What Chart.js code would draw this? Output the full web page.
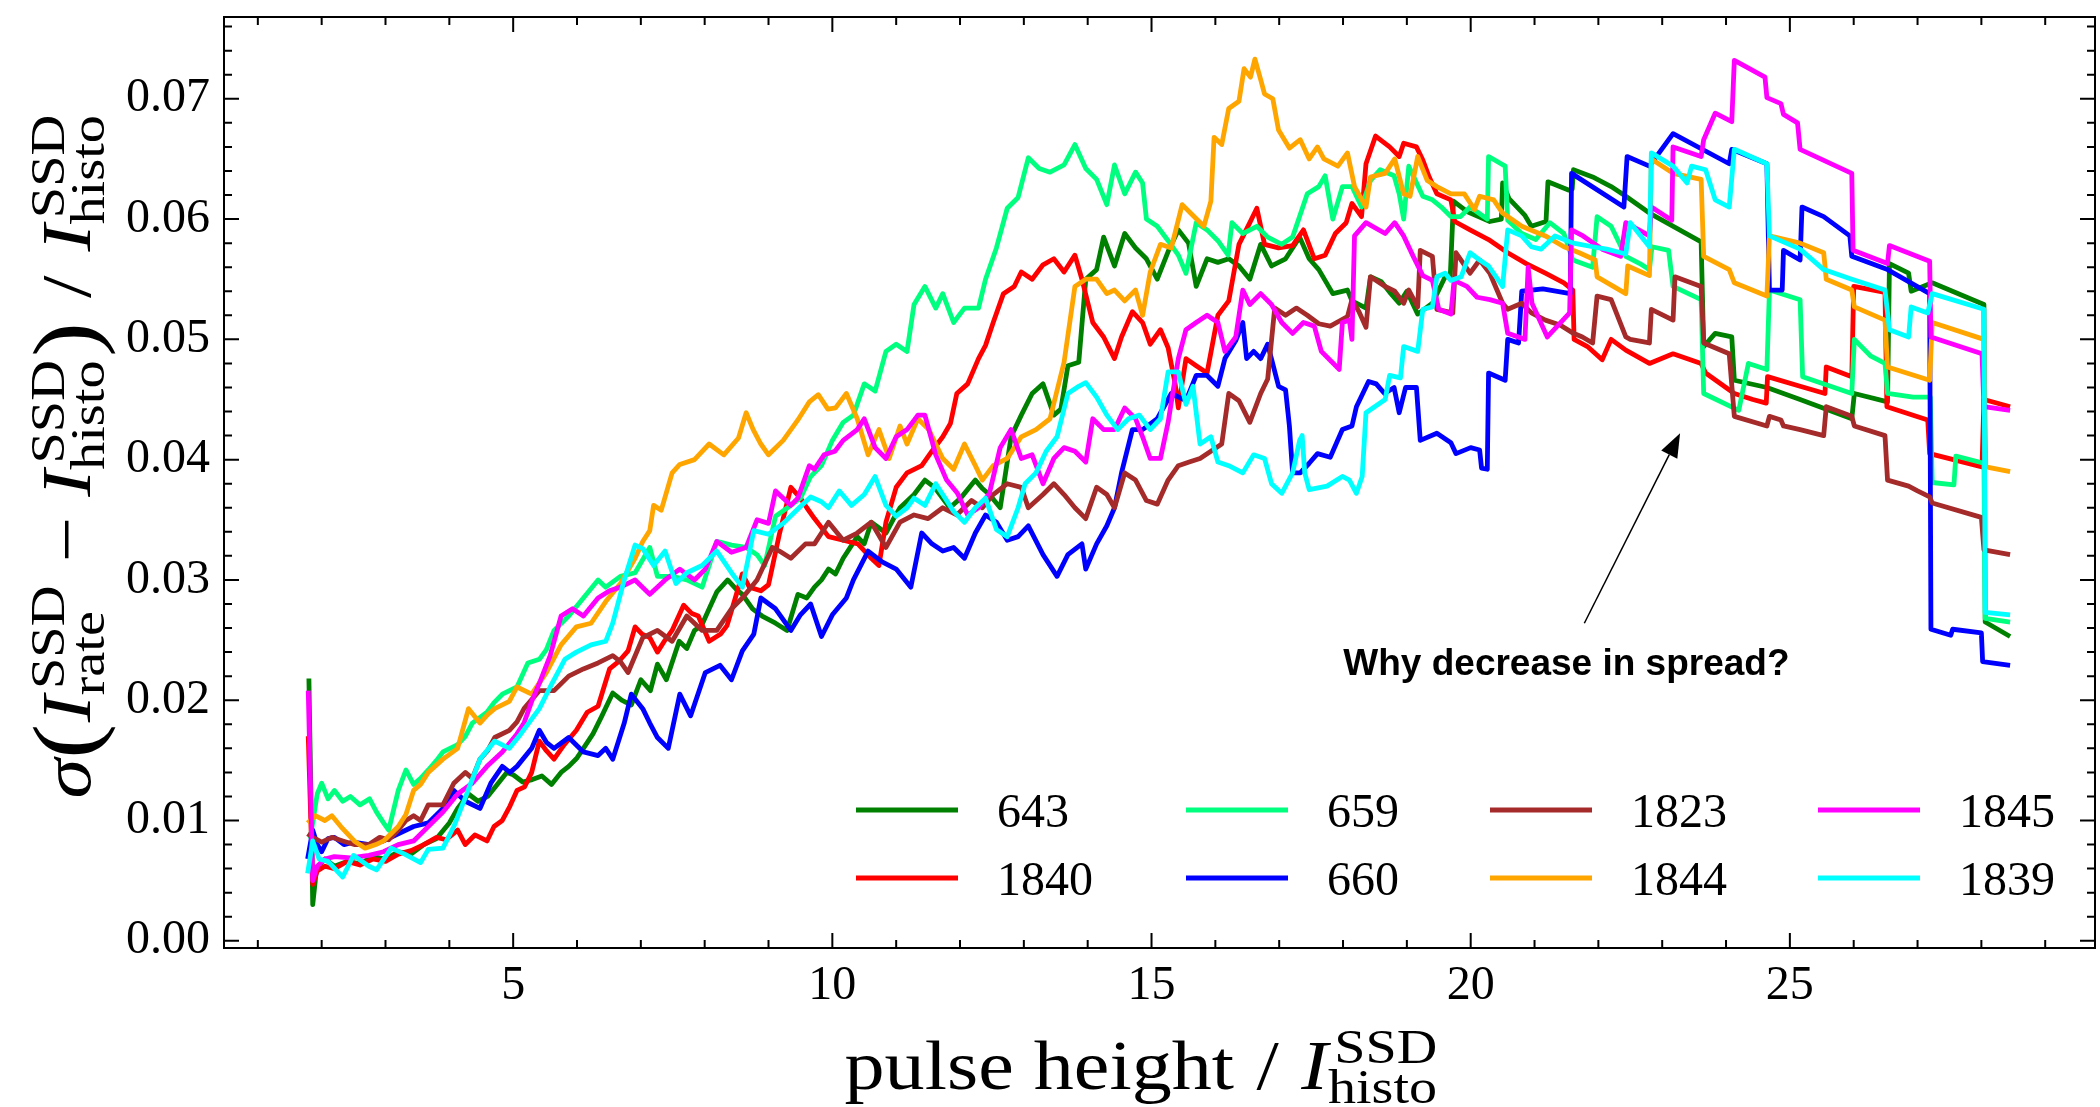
<!DOCTYPE html>
<html>
<head>
<meta charset="utf-8">
<script src="https://cdn.jsdelivr.net/npm/chart.js@4.4.1/dist/chart.umd.min.js"></script>
<style>
  html, body { margin: 0; padding: 0; background: #fff; }
  #wrap { width: 2100px; height: 1107px; }
</style>
</head>
<body>
<div id="wrap"><canvas id="chart" width="2100" height="1107"></canvas></div>
<script>
// run numbers, in plot order (legend fills column by column)
const runLabels = ['643', '1840', '659', '660', '1823', '1844', '1845', '1839'];
const runColors = ['#008000', '#ff0000', '#00ff7f', '#0000ff', '#a52a2a', '#ffa500', '#ff00ff', '#00ffff'];

const xTicks = [5, 10, 15, 20, 25];
const yTicks = [0, 0.01, 0.02, 0.03, 0.04, 0.05, 0.06, 0.07];

// [pulse height, spread]
const s643 = [[1.80,0.0218],[1.86,0.0030],[1.92,0.0060],[2.05,0.0068],[2.2,0.0062],[2.4,0.0066],[2.6,0.0064],[2.8,0.0070],[3.0,0.0068],[3.2,0.0074],[3.4,0.0072],[3.6,0.0080],[3.8,0.0085],[4.0,0.0098],[4.13,0.0110],[4.3,0.0122],[4.45,0.0116],[4.6,0.0120],[4.75,0.0130],[4.9,0.0140],[5.0,0.0138],[5.15,0.0132],[5.3,0.0134],[5.45,0.0137],[5.6,0.0130],[5.75,0.0140],[5.87,0.0145],[6.0,0.0152],[6.1,0.0160],[6.25,0.0172],[6.39,0.0187],[6.56,0.0206],[6.7,0.0200],[6.85,0.0196],[7.0,0.0217],[7.15,0.0208],[7.26,0.0230],[7.4,0.0217],[7.6,0.0249],[7.72,0.0243],[7.84,0.0258],[7.95,0.0262],[8.07,0.0276],[8.19,0.0290],[8.36,0.0300],[8.5,0.0292],[8.59,0.0288],[8.75,0.0276],[8.9,0.0270],[9.11,0.0264],[9.29,0.0258],[9.46,0.0288],[9.6,0.0285],[9.72,0.0294],[9.83,0.0300],[9.94,0.0309],[10.05,0.0305],[10.17,0.0318],[10.39,0.0336],[10.5,0.0330],[10.61,0.0348],[10.84,0.0339],[10.95,0.0350],[11.06,0.0360],[11.28,0.0371],[11.45,0.0383],[11.6,0.0377],[11.84,0.0360],[12.01,0.0368],[12.24,0.0383],[12.35,0.0376],[12.46,0.0371],[12.63,0.0360],[12.8,0.0419],[12.96,0.0437],[13.13,0.0455],[13.3,0.0463],[13.47,0.0437],[13.58,0.0442],[13.69,0.0478],[13.86,0.0481],[13.97,0.0550],[14.14,0.0558],[14.25,0.0585],[14.42,0.0561],[14.58,0.0588],[14.75,0.0576],[14.92,0.0567],[15.09,0.0550],[15.26,0.0573],[15.42,0.0591],[15.58,0.0580],[15.7,0.0544],[15.87,0.0567],[16.04,0.0564],[16.21,0.0567],[16.37,0.0561],[16.54,0.0550],[16.71,0.0579],[16.88,0.0561],[17.1,0.0567],[17.32,0.0585],[17.47,0.0567],[17.62,0.0558],[17.84,0.0538],[18.07,0.0541],[18.14,0.0532],[18.36,0.0526],[18.43,0.0552],[18.6,0.0548],[18.75,0.0538],[18.88,0.0530],[19.0,0.0540],[19.17,0.0521],[19.4,0.0530],[19.6,0.0552],[19.68,0.0552],[19.73,0.0615],[19.95,0.0606],[20.3,0.0598],[20.48,0.0600],[20.5,0.0630],[20.6,0.0617],[20.85,0.0603],[20.95,0.0594],[21.18,0.0598],[21.21,0.0631],[21.54,0.0624],[21.59,0.0625],[21.61,0.0641],[21.91,0.0635],[22.2,0.0627],[22.43,0.0619],[22.8,0.0605],[23.61,0.0581],[23.65,0.0494],[23.83,0.0505],[24.09,0.0502],[24.13,0.0466],[24.64,0.0460],[25.16,0.0450],[25.97,0.0434],[26.01,0.0455],[26.53,0.0448],[26.56,0.0563],[26.86,0.0555],[26.9,0.0540],[27.23,0.0547],[28.04,0.0529],[28.06,0.0265],[28.45,0.0253]];

const s1840 = [[1.79,0.0170],[1.86,0.0047],[1.93,0.0058],[2.05,0.0062],[2.2,0.0060],[2.4,0.0066],[2.6,0.0063],[2.8,0.0068],[3.0,0.0066],[3.2,0.0072],[3.4,0.0075],[3.6,0.0080],[3.8,0.0086],[3.95,0.0084],[4.13,0.0092],[4.25,0.0080],[4.4,0.0088],[4.59,0.0083],[4.7,0.0095],[4.83,0.0100],[4.95,0.0112],[5.06,0.0125],[5.18,0.0128],[5.29,0.0140],[5.41,0.0166],[5.52,0.0158],[5.64,0.0151],[5.8,0.0163],[5.99,0.0175],[6.16,0.0190],[6.33,0.0195],[6.51,0.0226],[6.65,0.0232],[6.8,0.0241],[6.91,0.0261],[7.02,0.0255],[7.14,0.0252],[7.26,0.0240],[7.38,0.0250],[7.49,0.0258],[7.67,0.0279],[7.8,0.0272],[7.9,0.0270],[8.07,0.0249],[8.25,0.0255],[8.35,0.0262],[8.48,0.0285],[8.59,0.0305],[8.7,0.0294],[8.88,0.0291],[9.0,0.0296],[9.17,0.0338],[9.35,0.0377],[9.5,0.0368],[9.6,0.0360],[9.72,0.0351],[9.94,0.0336],[10.17,0.0333],[10.4,0.0330],[10.61,0.0318],[10.73,0.0312],[10.84,0.0348],[11.0,0.0377],[11.17,0.0389],[11.4,0.0395],[11.56,0.0407],[11.73,0.0419],[11.85,0.0430],[11.95,0.0455],[12.12,0.0463],[12.29,0.0484],[12.4,0.0495],[12.52,0.0514],[12.68,0.0538],[12.85,0.0544],[12.96,0.0556],[13.13,0.0550],[13.3,0.0562],[13.47,0.0567],[13.63,0.0556],[13.8,0.0570],[13.91,0.0550],[14.08,0.0514],[14.25,0.0502],[14.42,0.0484],[14.53,0.0502],[14.7,0.0523],[14.86,0.0514],[14.98,0.0496],[15.14,0.0508],[15.26,0.0493],[15.37,0.0463],[15.42,0.0443],[15.54,0.0484],[15.7,0.0478],[15.87,0.0472],[16.04,0.0520],[16.21,0.0532],[16.37,0.0579],[16.54,0.0597],[16.65,0.0609],[16.77,0.0579],[16.99,0.0576],[17.21,0.0578],[17.38,0.0591],[17.55,0.0567],[17.72,0.0570],[17.88,0.0588],[18.05,0.0597],[18.14,0.0613],[18.29,0.0602],[18.36,0.0646],[18.51,0.0669],[18.73,0.0660],[18.88,0.0652],[18.95,0.0663],[19.15,0.0660],[19.25,0.0649],[19.35,0.0635],[19.47,0.0621],[19.69,0.0616],[19.75,0.0598],[19.99,0.0591],[20.28,0.0583],[20.58,0.0572],[20.87,0.0563],[21.17,0.0555],[21.46,0.0547],[21.6,0.0541],[21.62,0.0500],[21.83,0.0494],[22.06,0.0483],[22.2,0.0500],[22.43,0.0491],[22.8,0.0480],[23.17,0.0488],[23.61,0.0480],[23.68,0.0472],[24.13,0.0455],[24.42,0.0450],[24.63,0.0447],[24.65,0.0469],[25.16,0.0461],[25.55,0.0455],[25.57,0.0477],[25.97,0.0469],[26.0,0.0544],[26.49,0.0539],[26.52,0.0444],[27.16,0.0433],[27.19,0.0405],[28.01,0.0394],[28.04,0.0450],[28.45,0.0444]];

const s659 = [[1.82,0.0085],[1.93,0.0122],[2.0,0.0131],[2.1,0.0118],[2.2,0.0125],[2.33,0.0116],[2.45,0.0120],[2.6,0.0113],[2.75,0.0118],[2.86,0.0107],[2.97,0.0098],[3.05,0.0092],[3.2,0.0125],[3.32,0.0142],[3.44,0.0130],[3.55,0.0135],[3.67,0.0142],[3.8,0.0150],[3.9,0.0157],[4.13,0.0163],[4.25,0.0170],[4.36,0.0181],[4.59,0.0190],[4.7,0.0198],[4.83,0.0205],[5.06,0.0211],[5.23,0.0231],[5.41,0.0234],[5.52,0.0242],[5.64,0.0258],[5.87,0.0270],[6.1,0.0285],[6.33,0.0300],[6.45,0.0294],[6.68,0.0303],[6.91,0.0306],[7.14,0.0327],[7.26,0.0303],[7.49,0.0303],[7.72,0.0300],[7.96,0.0294],[8.19,0.0332],[8.42,0.0329],[8.65,0.0327],[8.82,0.0321],[8.94,0.0312],[9.11,0.0353],[9.35,0.0362],[9.5,0.0368],[9.66,0.0386],[9.83,0.0395],[10.0,0.0416],[10.17,0.0431],[10.33,0.0437],[10.5,0.0463],[10.67,0.0457],[10.84,0.0490],[11.0,0.0496],[11.17,0.0490],[11.28,0.0529],[11.45,0.0544],[11.62,0.0526],[11.73,0.0538],[11.9,0.0514],[12.07,0.0526],[12.29,0.0526],[12.4,0.0550],[12.57,0.0576],[12.74,0.0609],[12.91,0.0618],[13.07,0.0651],[13.24,0.0642],[13.41,0.0639],[13.63,0.0645],[13.8,0.0662],[13.97,0.0642],[14.14,0.0633],[14.3,0.0612],[14.42,0.0645],[14.58,0.0621],[14.75,0.0639],[14.86,0.0630],[14.92,0.0600],[15.09,0.0594],[15.26,0.0582],[15.42,0.0570],[15.54,0.0555],[15.7,0.0597],[15.87,0.0591],[16.04,0.0582],[16.2,0.0570],[16.26,0.0597],[16.43,0.0588],[16.65,0.0594],[16.82,0.0585],[17.04,0.0579],[17.21,0.0585],[17.44,0.0621],[17.62,0.0627],[17.72,0.0636],[17.84,0.0600],[17.99,0.0627],[18.14,0.0627],[18.29,0.0610],[18.43,0.0632],[18.58,0.0641],[18.8,0.0636],[18.88,0.0621],[18.95,0.0600],[19.03,0.0644],[19.25,0.0619],[19.4,0.0616],[19.54,0.0610],[19.69,0.0602],[19.84,0.0602],[19.99,0.0610],[20.26,0.0600],[20.28,0.0652],[20.54,0.0644],[20.58,0.0599],[20.8,0.0588],[21.02,0.0583],[21.24,0.0597],[21.46,0.0588],[21.6,0.0566],[21.91,0.0560],[21.98,0.0602],[22.2,0.0594],[22.43,0.0569],[22.65,0.0563],[22.8,0.0558],[22.84,0.0577],[23.1,0.0574],[23.17,0.0544],[23.61,0.0533],[23.65,0.0455],[24.2,0.0441],[24.35,0.0480],[24.64,0.0475],[24.68,0.0541],[25.16,0.0533],[25.2,0.0469],[25.97,0.0455],[26.01,0.0500],[26.27,0.0486],[26.49,0.0480],[26.53,0.0455],[26.93,0.0452],[27.2,0.0452],[27.23,0.0381],[27.57,0.0379],[27.6,0.0403],[28.04,0.0397],[28.06,0.0268],[28.45,0.0265]];

const s660 = [[1.78,0.0068],[1.86,0.0092],[1.93,0.0080],[2.0,0.0074],[2.1,0.0085],[2.2,0.0086],[2.35,0.0080],[2.5,0.0082],[2.74,0.0080],[2.97,0.0083],[3.2,0.0089],[3.44,0.0095],[3.67,0.0098],[3.9,0.0110],[4.07,0.0125],[4.25,0.0116],[4.48,0.0110],[4.65,0.0131],[4.83,0.0145],[4.95,0.0140],[5.06,0.0145],[5.29,0.0160],[5.41,0.0175],[5.52,0.0165],[5.64,0.0160],[5.87,0.0169],[6.1,0.0157],[6.33,0.0154],[6.45,0.0160],[6.56,0.0151],[6.74,0.0181],[6.85,0.0205],[7.03,0.0193],[7.14,0.0181],[7.26,0.0169],[7.43,0.0160],[7.61,0.0205],[7.78,0.0187],[8.01,0.0223],[8.24,0.0229],[8.42,0.0217],[8.59,0.0241],[8.77,0.0255],[8.88,0.0285],[9.11,0.0276],[9.35,0.0258],[9.5,0.0271],[9.66,0.0280],[9.83,0.0253],[10.0,0.0271],[10.22,0.0285],[10.33,0.0300],[10.56,0.0324],[10.78,0.0315],[11.0,0.0309],[11.23,0.0294],[11.4,0.0339],[11.56,0.0330],[11.73,0.0324],[11.9,0.0327],[12.07,0.0318],[12.24,0.0339],[12.4,0.0354],[12.57,0.0348],[12.74,0.0333],[12.91,0.0336],[13.07,0.0345],[13.3,0.0321],[13.52,0.0303],[13.69,0.0321],[13.91,0.0330],[13.97,0.0309],[14.14,0.0330],[14.3,0.0345],[14.42,0.0360],[14.53,0.0389],[14.7,0.0425],[14.86,0.0425],[15.09,0.0434],[15.31,0.0455],[15.54,0.0449],[15.7,0.0470],[15.87,0.0470],[16.04,0.0461],[16.15,0.0484],[16.32,0.0499],[16.43,0.0514],[16.49,0.0484],[16.6,0.0490],[16.71,0.0484],[16.82,0.0496],[16.99,0.0461],[17.1,0.0458],[17.16,0.0428],[17.21,0.0389],[17.33,0.0389],[17.47,0.0397],[17.6,0.0405],[17.8,0.0402],[17.99,0.0425],[18.14,0.0428],[18.21,0.0444],[18.4,0.0465],[18.52,0.0463],[18.65,0.0455],[18.8,0.0460],[18.88,0.0439],[18.98,0.0460],[19.15,0.0460],[19.21,0.0416],[19.47,0.0422],[19.69,0.0414],[19.77,0.0405],[20.0,0.0410],[20.14,0.0408],[20.17,0.0393],[20.26,0.0392],[20.28,0.0472],[20.54,0.0466],[20.58,0.0500],[20.75,0.0497],[20.8,0.0540],[21.13,0.0542],[21.56,0.0538],[21.58,0.0638],[22.4,0.0610],[22.45,0.0652],[22.8,0.0644],[23.17,0.0671],[24.05,0.0646],[24.09,0.0658],[24.64,0.0646],[24.68,0.0541],[24.88,0.0541],[24.9,0.0574],[25.16,0.0566],[25.19,0.0610],[25.53,0.0602],[25.94,0.0586],[25.97,0.0569],[26.53,0.0558],[27.19,0.0538],[27.21,0.0259],[27.52,0.0254],[27.55,0.0259],[28.0,0.0256],[28.02,0.0232],[28.45,0.0229]];

const s1823 = [[1.78,0.0089],[1.86,0.0086],[2.0,0.0082],[2.16,0.0086],[2.33,0.0083],[2.51,0.0080],[2.74,0.0080],[2.91,0.0086],[3.05,0.0084],[3.2,0.0092],[3.32,0.0100],[3.44,0.0104],[3.55,0.0100],[3.67,0.0113],[3.9,0.0113],[4.07,0.0131],[4.25,0.0140],[4.36,0.0135],[4.48,0.0151],[4.6,0.0158],[4.71,0.0169],[4.94,0.0175],[5.06,0.0182],[5.17,0.0193],[5.41,0.0208],[5.64,0.0208],[5.87,0.0220],[6.1,0.0226],[6.33,0.0231],[6.56,0.0237],[6.68,0.0232],[6.8,0.0223],[7.03,0.0252],[7.26,0.0258],[7.49,0.0249],[7.72,0.0270],[7.96,0.0258],[8.19,0.0258],[8.42,0.0276],[8.59,0.0285],[8.82,0.0300],[9.06,0.0327],[9.17,0.0324],[9.35,0.0318],[9.58,0.0330],[9.72,0.0330],[9.94,0.0348],[10.17,0.0333],[10.39,0.0339],[10.61,0.0348],[10.84,0.0327],[11.06,0.0348],[11.28,0.0354],[11.5,0.0351],[11.73,0.0360],[11.95,0.0354],[12.18,0.0366],[12.35,0.0360],[12.52,0.0371],[12.74,0.0380],[12.96,0.0377],[13.07,0.0360],[13.3,0.0371],[13.47,0.0380],[13.63,0.0371],[13.8,0.0360],[13.97,0.0351],[14.14,0.0377],[14.3,0.0371],[14.42,0.0360],[14.58,0.0389],[14.75,0.0383],[14.92,0.0366],[15.09,0.0363],[15.26,0.0383],[15.42,0.0395],[15.59,0.0398],[15.76,0.0401],[15.93,0.0407],[16.1,0.0413],[16.21,0.0455],[16.37,0.0449],[16.54,0.0431],[16.71,0.0455],[16.82,0.0467],[16.93,0.0526],[17.1,0.0520],[17.27,0.0526],[17.44,0.0520],[17.62,0.0513],[17.8,0.0511],[18.07,0.0519],[18.14,0.0533],[18.25,0.0523],[18.36,0.0510],[18.43,0.0552],[18.66,0.0544],[18.81,0.0540],[18.95,0.0530],[19.03,0.0541],[19.17,0.0527],[19.21,0.0574],[19.4,0.0569],[19.47,0.0525],[19.72,0.0522],[19.77,0.0572],[19.9,0.0562],[19.99,0.0555],[20.14,0.0566],[20.3,0.0555],[20.5,0.0530],[20.58,0.0525],[20.8,0.0530],[20.95,0.0522],[21.17,0.0516],[21.4,0.0512],[21.61,0.0505],[21.75,0.0502],[21.91,0.0497],[21.98,0.0536],[22.2,0.0533],[22.43,0.0502],[22.5,0.0500],[22.8,0.0497],[22.83,0.0525],[23.17,0.0516],[23.2,0.0552],[23.61,0.0544],[23.65,0.0497],[24.05,0.0488],[24.13,0.0436],[24.64,0.0428],[24.68,0.0436],[24.86,0.0433],[24.9,0.0428],[25.16,0.0425],[25.53,0.0420],[25.57,0.0444],[25.97,0.0436],[26.01,0.0428],[26.49,0.0420],[26.53,0.0383],[26.86,0.0378],[27.0,0.0374],[27.19,0.0369],[27.23,0.0364],[28.0,0.0352],[28.04,0.0325],[28.45,0.0321]];

const s1844 = [[1.78,0.0098],[1.9,0.0104],[2.05,0.0100],[2.16,0.0104],[2.3,0.0095],[2.51,0.0083],[2.68,0.0077],[2.85,0.0080],[2.97,0.0083],[3.2,0.0095],[3.32,0.0105],[3.44,0.0125],[3.55,0.0130],[3.67,0.0140],[3.9,0.0151],[4.13,0.0160],[4.3,0.0193],[4.48,0.0181],[4.6,0.0188],[4.71,0.0193],[4.94,0.0199],[5.06,0.0211],[5.29,0.0205],[5.52,0.0223],[5.75,0.0246],[5.99,0.0261],[6.22,0.0264],[6.45,0.0282],[6.68,0.0297],[6.91,0.0318],[7.03,0.0332],[7.14,0.0341],[7.2,0.0362],[7.32,0.0358],[7.49,0.0389],[7.61,0.0396],[7.84,0.0400],[8.07,0.0413],[8.3,0.0404],[8.53,0.0418],[8.65,0.0439],[8.76,0.0425],[8.88,0.0413],[9.0,0.0404],[9.23,0.0416],[9.46,0.0433],[9.64,0.0448],[9.78,0.0454],[9.93,0.0442],[10.05,0.0443],[10.22,0.0455],[10.39,0.0434],[10.56,0.0404],[10.73,0.0425],[10.89,0.0401],[11.06,0.0428],[11.17,0.0413],[11.34,0.0434],[11.51,0.0425],[11.73,0.0401],[11.9,0.0392],[12.07,0.0413],[12.24,0.0395],[12.35,0.0383],[12.52,0.0395],[12.74,0.0401],[12.96,0.0419],[13.19,0.0425],[13.41,0.0434],[13.63,0.0481],[13.8,0.0544],[13.97,0.0550],[14.14,0.0550],[14.3,0.0538],[14.42,0.0541],[14.58,0.0532],[14.75,0.0541],[14.86,0.0520],[14.98,0.0556],[15.14,0.0579],[15.31,0.0576],[15.48,0.0612],[15.65,0.0603],[15.82,0.0594],[15.93,0.0615],[15.98,0.0668],[16.1,0.0662],[16.21,0.0692],[16.37,0.0698],[16.45,0.0725],[16.55,0.0718],[16.62,0.0733],[16.71,0.0716],[16.77,0.0704],[16.9,0.0700],[16.99,0.0674],[17.16,0.0659],[17.33,0.0666],[17.47,0.0650],[17.6,0.0660],[17.7,0.0650],[17.92,0.0644],[18.07,0.0655],[18.18,0.0627],[18.36,0.0610],[18.43,0.0635],[18.66,0.0638],[18.81,0.0650],[18.95,0.0621],[19.05,0.0619],[19.17,0.0652],[19.32,0.0632],[19.47,0.0627],[19.69,0.0621],[19.9,0.0621],[20.06,0.0608],[20.14,0.0619],[20.36,0.0616],[20.5,0.0605],[20.8,0.0594],[21.17,0.0586],[21.46,0.0577],[21.7,0.0572],[21.95,0.0566],[21.98,0.0552],[22.43,0.0538],[22.46,0.0561],[22.8,0.0553],[22.83,0.0650],[23.17,0.0638],[23.61,0.0633],[23.65,0.0569],[24.05,0.0558],[24.13,0.0547],[24.64,0.0536],[24.68,0.0586],[25.16,0.0580],[25.53,0.0572],[25.57,0.0550],[25.97,0.0541],[26.01,0.0527],[26.49,0.0516],[26.53,0.0477],[27.19,0.0466],[27.23,0.0514],[28.04,0.0500],[28.07,0.0394],[28.45,0.0390]];

const s1845 = [[1.79,0.0208],[1.86,0.0050],[1.93,0.0062],[2.05,0.0068],[2.2,0.0070],[2.45,0.0069],[2.74,0.0071],[2.97,0.0074],[3.2,0.0080],[3.44,0.0083],[3.67,0.0095],[3.9,0.0107],[4.13,0.0122],[4.36,0.0131],[4.59,0.0145],[4.83,0.0157],[5.06,0.0172],[5.17,0.0181],[5.29,0.0199],[5.41,0.0214],[5.58,0.0237],[5.75,0.0270],[5.93,0.0276],[6.1,0.0270],[6.33,0.0285],[6.51,0.0291],[6.68,0.0294],[6.91,0.0300],[7.14,0.0288],[7.38,0.0300],[7.61,0.0309],[7.84,0.0300],[8.01,0.0309],[8.19,0.0332],[8.42,0.0323],[8.65,0.0327],[8.82,0.0350],[9.0,0.0347],[9.11,0.0374],[9.35,0.0362],[9.46,0.0368],[9.64,0.0395],[9.72,0.0392],[9.87,0.0404],[10.04,0.0407],[10.17,0.0416],[10.39,0.0425],[10.5,0.0434],[10.67,0.0410],[10.84,0.0401],[11.0,0.0419],[11.17,0.0425],[11.34,0.0437],[11.45,0.0437],[11.62,0.0404],[11.79,0.0383],[11.96,0.0372],[12.12,0.0354],[12.29,0.0360],[12.46,0.0372],[12.63,0.0410],[12.8,0.0425],[12.96,0.0401],[13.13,0.0404],[13.3,0.0380],[13.47,0.0401],[13.63,0.0410],[13.8,0.0407],[13.97,0.0398],[14.08,0.0434],[14.25,0.0425],[14.42,0.0425],[14.58,0.0443],[14.75,0.0434],[14.86,0.0419],[14.98,0.0401],[15.14,0.0401],[15.26,0.0431],[15.42,0.0484],[15.54,0.0508],[15.7,0.0514],[15.87,0.0520],[16.04,0.0514],[16.15,0.0490],[16.32,0.0502],[16.43,0.0541],[16.54,0.0529],[16.71,0.0538],[16.88,0.0529],[17.04,0.0514],[17.21,0.0505],[17.38,0.0514],[17.55,0.0511],[17.66,0.0490],[17.83,0.0481],[17.94,0.0475],[17.99,0.0514],[18.1,0.0516],[18.14,0.0500],[18.18,0.0586],[18.36,0.0597],[18.66,0.0588],[18.81,0.0597],[18.95,0.0586],[19.1,0.0569],[19.25,0.0553],[19.4,0.0549],[19.5,0.0525],[19.69,0.0521],[19.74,0.0549],[19.94,0.0544],[20.1,0.0535],[20.3,0.0533],[20.5,0.0530],[20.58,0.0505],[20.85,0.0500],[20.9,0.0560],[20.96,0.0530],[21.2,0.0502],[21.55,0.0522],[21.58,0.0591],[21.76,0.0586],[22.06,0.0575],[22.35,0.0569],[22.43,0.0597],[22.8,0.0586],[22.83,0.0610],[23.15,0.0599],[23.17,0.0660],[23.61,0.0652],[23.65,0.0666],[23.83,0.0688],[24.09,0.0681],[24.13,0.0732],[24.61,0.0718],[24.64,0.0701],[24.86,0.0696],[24.9,0.0687],[25.12,0.0680],[25.16,0.0658],[25.97,0.0638],[25.99,0.0574],[26.53,0.0563],[26.56,0.0578],[27.19,0.0565],[27.21,0.0502],[28.01,0.0488],[28.04,0.0444],[28.45,0.0441]];

const s1839 = [[1.78,0.0056],[1.86,0.0083],[1.96,0.0068],[2.1,0.0066],[2.33,0.0053],[2.5,0.0071],[2.74,0.0062],[2.86,0.0059],[3.09,0.0077],[3.3,0.0072],[3.55,0.0065],[3.67,0.0076],[3.9,0.0077],[4.07,0.0095],[4.25,0.0119],[4.48,0.0151],[4.71,0.0166],[4.94,0.0160],[5.12,0.0172],[5.41,0.0193],[5.58,0.0211],[5.81,0.0234],[5.99,0.0240],[6.22,0.0246],[6.45,0.0249],[6.56,0.0264],[6.74,0.0300],[6.91,0.0329],[7.03,0.0326],[7.2,0.0312],[7.38,0.0324],[7.55,0.0297],[7.72,0.0306],[7.96,0.0312],[8.19,0.0324],[8.42,0.0306],[8.59,0.0294],[8.77,0.0341],[9.0,0.0338],[9.23,0.0347],[9.46,0.0359],[9.66,0.0369],[9.83,0.0365],[9.94,0.0360],[10.11,0.0374],[10.3,0.0362],[10.5,0.0371],[10.67,0.0386],[10.84,0.0362],[11.0,0.0353],[11.17,0.0360],[11.28,0.0368],[11.45,0.0362],[11.62,0.0380],[11.73,0.0371],[11.9,0.0357],[12.07,0.0348],[12.24,0.0360],[12.4,0.0368],[12.57,0.0342],[12.74,0.0336],[12.91,0.0360],[13.02,0.0380],[13.19,0.0389],[13.35,0.0407],[13.52,0.0419],[13.69,0.0455],[13.86,0.0461],[13.97,0.0464],[14.14,0.0452],[14.3,0.0437],[14.47,0.0425],[14.64,0.0434],[14.81,0.0437],[14.98,0.0425],[15.14,0.0434],[15.26,0.0473],[15.42,0.0473],[15.54,0.0446],[15.65,0.0461],[15.76,0.0413],[15.93,0.0419],[16.04,0.0398],[16.21,0.0395],[16.43,0.0389],[16.6,0.0404],[16.77,0.0401],[16.88,0.0380],[17.04,0.0372],[17.21,0.0389],[17.32,0.0416],[17.36,0.0420],[17.4,0.0389],[17.47,0.0375],[17.75,0.0378],[17.99,0.0386],[18.1,0.0383],[18.21,0.0372],[18.3,0.0386],[18.36,0.0439],[18.66,0.0450],[18.73,0.0470],[18.9,0.0468],[18.95,0.0494],[19.17,0.0490],[19.25,0.0525],[19.4,0.0527],[19.47,0.0552],[19.6,0.0555],[19.69,0.0549],[19.85,0.0552],[19.99,0.0572],[20.14,0.0566],[20.28,0.0561],[20.5,0.0544],[20.58,0.0591],[20.8,0.0586],[20.95,0.0577],[21.1,0.0575],[21.32,0.0586],[21.61,0.0580],[21.91,0.0577],[22.13,0.0575],[22.43,0.0571],[22.5,0.0597],[22.8,0.0577],[22.83,0.0655],[23.17,0.0644],[23.39,0.0630],[23.46,0.0644],[23.68,0.0641],[23.83,0.0616],[24.05,0.0610],[24.13,0.0658],[24.64,0.0646],[24.68,0.0586],[25.16,0.0575],[25.53,0.0558],[25.97,0.0550],[26.49,0.0541],[26.56,0.0508],[26.86,0.0502],[26.9,0.0527],[27.16,0.0522],[27.23,0.0538],[28.04,0.0525],[28.06,0.0273],[28.45,0.0271]];

const runSeries = [s643, s1840, s659, s660, s1823, s1844, s1845, s1839];

// annotation: text anchor and arrow head, in data units
const noteText = 'Why decrease in spread?';
const noteAt = [21.5, 0.0221];
const noteTail = [21.78, 0.0264];
const noteHead = [23.28, 0.0422];

const SERIF = '"Liberation Serif", "Times New Roman", serif';
const fnt = (size, italic) => (italic ? 'italic ' : '') + size + 'px ' + SERIF;

function tokWidth(ctx, tk, S) {
  if (tk.sup !== undefined) {
    ctx.font = fnt(S * 0.7, false);
    return Math.max(ctx.measureText(tk.sup).width + (tk.kern || 0) * S, ctx.measureText(tk.sub).width) + 0.04 * S;
  }
  ctx.font = fnt(S * (tk.big ? 1.3 : 1), tk.it);
  return ctx.measureText(tk.t).width + ((tk.pre || 0) + (tk.post || 0)) * S;
}

// math-like label: sub/superscripts, stretched a little wider like Computer Modern
function drawMath(ctx, toks, cx, by, S, sx) {
  const ws = toks.map(tk => tokWidth(ctx, tk, S));
  let x = -ws.reduce((a, b) => a + b, 0) / 2;
  ctx.save();
  ctx.translate(cx, by);
  ctx.scale(sx, 1);
  ctx.fillStyle = '#000';
  ctx.textAlign = 'left';
  ctx.textBaseline = 'alphabetic';
  toks.forEach((tk, i) => {
    if (tk.sup !== undefined) {
      ctx.font = fnt(S * 0.7, false);
      ctx.fillText(tk.sup, x + (tk.kern || 0) * S, -0.37 * S);
      ctx.fillText(tk.sub, x, 0.2 * S);
    } else {
      ctx.font = fnt(S * (tk.big ? 1.3 : 1), tk.it);
      ctx.fillText(tk.t, x + (tk.pre || 0) * S, tk.big ? 0.08 * S : 0);
    }
    x += ws[i];
  });
  ctx.restore();
}

const xTitle = [
  {t: 'pulse height'}, {t: '/', pre: 0.28, post: 0.28}, {t: 'I', it: true},
  {sup: 'SSD', sub: 'histo', kern: 0.08}
];
const yTitle = [
  {t: 'σ', it: true}, {t: '(', big: true, post: 0.02}, {t: 'I', it: true}, {sup: 'SSD', sub: 'rate', kern: 0.08},
  {t: '−', pre: 0.25, post: 0.25}, {t: 'I', it: true}, {sup: 'SSD', sub: 'histo', kern: 0.08},
  {t: ')', big: true}, {t: '/', pre: 0.3, post: 0.3}, {t: 'I', it: true}, {sup: 'SSD', sub: 'histo', kern: 0.08}
];

const decor = {
  id: 'decor',
  afterDraw(chart) {
    const {ctx, chartArea: a, scales: {x, y}} = chart;
    ctx.save();

    // frame + inward ticks on all four sides
    ctx.strokeStyle = '#000';
    ctx.lineWidth = 2;
    ctx.strokeRect(a.left, a.top, a.right - a.left, a.bottom - a.top);
    ctx.beginPath();
    for (let v = 1; v < x.max; v++) {
      const px = x.getPixelForValue(v);
      const len = v % 5 === 0 ? 15 : 8;
      ctx.moveTo(px, a.bottom); ctx.lineTo(px, a.bottom - len);
      ctx.moveTo(px, a.top); ctx.lineTo(px, a.top + len);
    }
    for (let k = 0; k * 0.002 < y.max; k++) {
      const py = y.getPixelForValue(k * 0.002);
      const len = k % 5 === 0 ? 15 : 8;
      ctx.moveTo(a.left, py); ctx.lineTo(a.left + len, py);
      ctx.moveTo(a.right, py); ctx.lineTo(a.right - len, py);
    }
    ctx.stroke();

    // legend, 4 columns x 2 rows, filled column by column
    const colX = [632, 962, 1266, 1594];
    const rowY = [810, 878];
    ctx.font = fnt(48, false);
    ctx.textBaseline = 'alphabetic';
    ctx.textAlign = 'left';
    chart.data.datasets.forEach((ds, i) => {
      const lx = a.left + colX[Math.floor(i / 2)];
      const ly = rowY[i % 2];
      ctx.strokeStyle = ds.borderColor;
      ctx.lineWidth = 5;
      ctx.beginPath();
      ctx.moveTo(lx, ly); ctx.lineTo(lx + 102, ly);
      ctx.stroke();
      ctx.fillStyle = '#000';
      ctx.fillText(ds.label, lx + 141, ly + 17);
    });

    // axis titles
    drawMath(ctx, xTitle, (a.left + a.right) / 2 - 17, 1089, 70, 1.145);
    ctx.save();
    ctx.translate(90, 455);
    ctx.rotate(-Math.PI / 2);
    drawMath(ctx, yTitle, 0, 0, 70, 1.15);
    ctx.restore();

    // annotation with arrow
    const tx = x.getPixelForValue(noteAt[0]), ty = y.getPixelForValue(noteAt[1]);
    ctx.font = 'bold 37px "Liberation Sans", Arial, sans-serif';
    ctx.textAlign = 'center';
    ctx.fillStyle = '#000';
    ctx.fillText(noteText, tx, ty);
    const x0 = x.getPixelForValue(noteTail[0]), y0 = y.getPixelForValue(noteTail[1]);
    const x1 = x.getPixelForValue(noteHead[0]), y1 = y.getPixelForValue(noteHead[1]);
    const ang = Math.atan2(y1 - y0, x1 - x0);
    const hl = 24, hw = 9;
    const bx = x1 - hl * Math.cos(ang), by = y1 - hl * Math.sin(ang);
    ctx.strokeStyle = '#000';
    ctx.lineWidth = 1.5;
    ctx.beginPath();
    ctx.moveTo(x0, y0); ctx.lineTo(bx, by);
    ctx.stroke();
    ctx.beginPath();
    ctx.moveTo(x1, y1);
    ctx.lineTo(bx + hw * Math.sin(ang), by - hw * Math.cos(ang));
    ctx.lineTo(bx - hw * Math.sin(ang), by + hw * Math.cos(ang));
    ctx.closePath();
    ctx.fill();

    ctx.restore();
  }
};

const datasets = runSeries.map((pts, i) => ({
  label: runLabels[i],
  data: pts.map(p => ({x: p[0], y: p[1]})),
  borderColor: runColors[i],
  backgroundColor: runColors[i],
  borderWidth: 4.8,
  borderJoinStyle: 'round',
  pointRadius: 0,
  fill: false,
  tension: 0,
  order: runSeries.length - i
}));

new Chart(document.getElementById('chart'), {
  type: 'line',
  data: {datasets},
  options: {
    responsive: false,
    animation: false,
    devicePixelRatio: 1,
    layout: {padding: {top: 17, right: 5, left: 0, bottom: 0}},
    plugins: {legend: {display: false}, tooltip: {enabled: false}},
    scales: {
      x: {
        type: 'linear',
        min: 0.47,
        max: 29.78,
        afterBuildTicks: s => { s.ticks = xTicks.map(v => ({value: v})); },
        afterFit: s => { s.height = 159; },
        grid: {display: false, drawTicks: false},
        border: {display: false},
        ticks: {font: {family: SERIF, size: 48}, color: '#000', padding: 10, maxRotation: 0, autoSkip: false,
                callback: v => String(v)}
      },
      y: {
        type: 'linear',
        min: -0.0006,
        max: 0.0768,
        afterBuildTicks: s => { s.ticks = yTicks.map(v => ({value: v})); },
        afterFit: s => { s.width = 224; },
        grid: {display: false, drawTicks: false},
        border: {display: false},
        ticks: {font: {family: SERIF, size: 48, lineHeight: 0.02}, color: '#000', padding: 14, autoSkip: false,
                callback: v => v.toFixed(2)}
      }
    }
  },
  plugins: [decor]
});
</script>
</body>
</html>
